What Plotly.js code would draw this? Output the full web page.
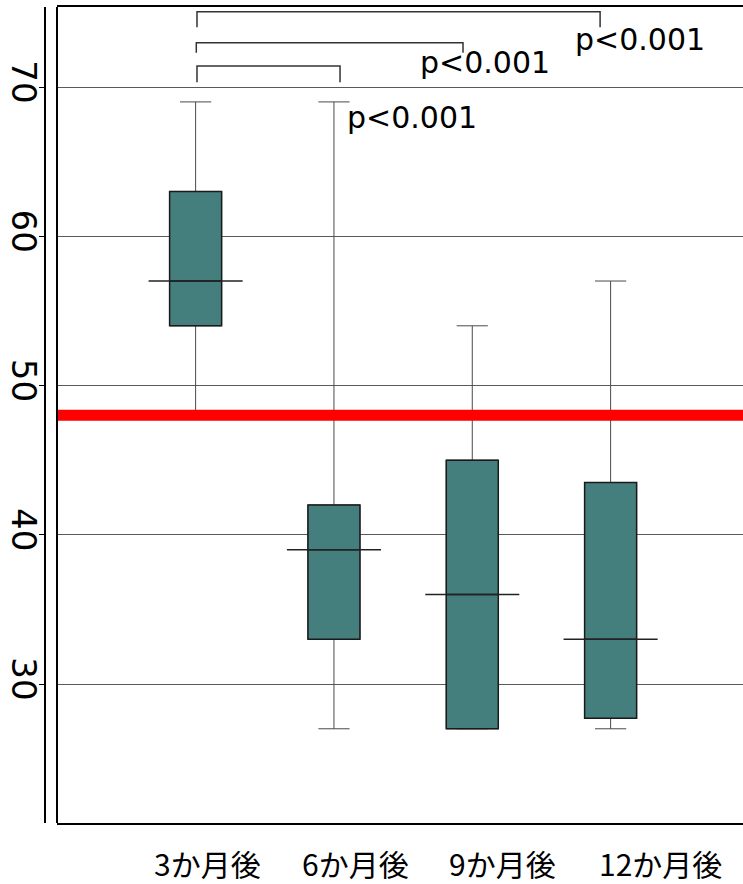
<!DOCTYPE html>
<html>
<head>
<meta charset="utf-8">
<script src="https://cdn.plot.ly/plotly-3.0.1.min.js"></script>
<style>html,body{margin:0;padding:0;background:#fff;}#chart{width:743px;height:884px;}</style>
</head>
<body>
<div id="chart"></div>
<script>
// ---- data ----
const categories = ['3か月後', '6か月後', '9か月後', '12か月後'];
const q1Values = [54, 33, 27, 27.7];
const medianValues = [57, 39, 36, 33];
const q3Values = [63, 42, 45, 43.5];
const lowerWhiskers = [48, 27, 27, 27];
const upperWhiskers = [69, 69, 54, 57];
const referenceValue = 48;
const yTickValues = [30, 40, 50, 60, 70];
const yTickLabels = ['30', '40', '50', '60', '70'];
const pValueLabels = ['p<0.001', 'p<0.001', 'p<0.001'];

// ---- layout helpers (positions / styles) ----
const positions = categories.map((c, i) => i);
const boxWidth = 0.376;
const medianHalf = 0.34;
const xLabelPos = [0.086, 1.156, 2.215, 3.364];
const bracketX = [[0.01, 1.044], [0.005, 1.933], [0.01, 2.924]];
const bracketTop = [71.41, 72.97, 75.05];
const bracketDrop = [70.31, 72.30, 74.0];
const pLabelPos = [[1.567, 67.98], [2.095, 71.63], [3.213, 73.17]];
const mainFont = 'DejaVu Sans, Verdana, sans-serif';
const domainStart = 12 / 698;

const traces = [];
// whiskers (gray)
traces.push({
  type: 'box', x: positions, q1: q1Values, median: medianValues, q3: q3Values,
  lowerfence: lowerWhiskers, upperfence: upperWhiskers,
  width: boxWidth, whiskerwidth: 0.6, boxpoints: false,
  line: {color: '#4a4a4a', width: 1}, fillcolor: 'rgba(0,0,0,0)',
  hoverinfo: 'skip', showlegend: false
});
// boxes (teal with dark outline)
traces.push({
  type: 'box', x: positions, q1: q1Values, median: medianValues, q3: q3Values,
  lowerfence: q1Values, upperfence: q3Values,
  width: boxWidth, whiskerwidth: 0, boxpoints: false,
  line: {color: '#1a1a1a', width: 1.5}, fillcolor: '#447F7E',
  hoverinfo: 'skip', showlegend: false
});
// wide median lines
positions.forEach((p, i) => {
  traces.push({
    type: 'scatter', mode: 'lines',
    x: [p - medianHalf, p + medianHalf], y: [medianValues[i], medianValues[i]],
    line: {color: '#222', width: 1.5}, hoverinfo: 'skip', showlegend: false
  });
});

const shapes = [];
// reference line
shapes.push({type: 'line', xref: 'paper', yref: 'y', x0: domainStart, x1: 1,
  y0: referenceValue, y1: referenceValue, line: {color: '#ff0000', width: 11}, layer: 'above'});
// left frame line
shapes.push({type: 'line', xref: 'paper', yref: 'paper', x0: domainStart, x1: domainStart,
  y0: 0, y1: 1, line: {color: '#000', width: 2}});
// brackets
bracketX.forEach((bx, i) => {
  shapes.push({type: 'path', xref: 'x', yref: 'y',
    path: `M ${bx[0]},${bracketDrop[i]} L ${bx[0]},${bracketTop[i]} L ${bx[1]},${bracketTop[i]} L ${bx[1]},${bracketDrop[i]}`,
    line: {color: '#333', width: 1.5}});
});

const annotations = [];
categories.forEach((c, i) => {
  annotations.push({xref: 'x', yref: 'paper', x: xLabelPos[i], y: 0, yshift: -40,
    xanchor: 'center', yanchor: 'middle', showarrow: false, text: c,
    font: {family: 'Noto Sans CJK JP, sans-serif', size: 30, color: '#000'}});
});
pValueLabels.forEach((t, i) => {
  annotations.push({xref: 'x', yref: 'y', x: pLabelPos[i][0], y: pLabelPos[i][1],
    xanchor: 'center', yanchor: 'middle', showarrow: false, text: t,
    font: {family: mainFont, size: 30, color: '#000'}});
});

const layout = {
  width: 743, height: 884,
  margin: {l: 45, r: 0, t: 7, b: 61, pad: 0},
  paper_bgcolor: '#fff', plot_bgcolor: '#fff',
  showlegend: false, boxmode: 'overlay',
  xaxis: {
    domain: [domainStart, 1], range: [-1.002, 3.957],
    showgrid: false, zeroline: false, showticklabels: false, ticks: '',
    showline: true, mirror: true, linecolor: '#000', linewidth: 2
  },
  yaxis: {
    anchor: 'free', position: 0, range: [20.687, 75.36],
    tickvals: yTickValues, ticktext: yTickLabels, tickangle: 90,
    tickfont: {family: mainFont, size: 34, color: '#000'},
    ticklabelstandoff: -14,
    ticks: 'outside', ticklen: 5, tickwidth: 1, tickcolor: '#000',
    showline: true, linecolor: '#000', linewidth: 2,
    showgrid: true, gridcolor: '#5a5a5a', gridwidth: 1, zeroline: false
  },
  shapes: shapes,
  annotations: annotations
};

Plotly.newPlot('chart', traces, layout, {staticPlot: true});
</script>
</body>
</html>
